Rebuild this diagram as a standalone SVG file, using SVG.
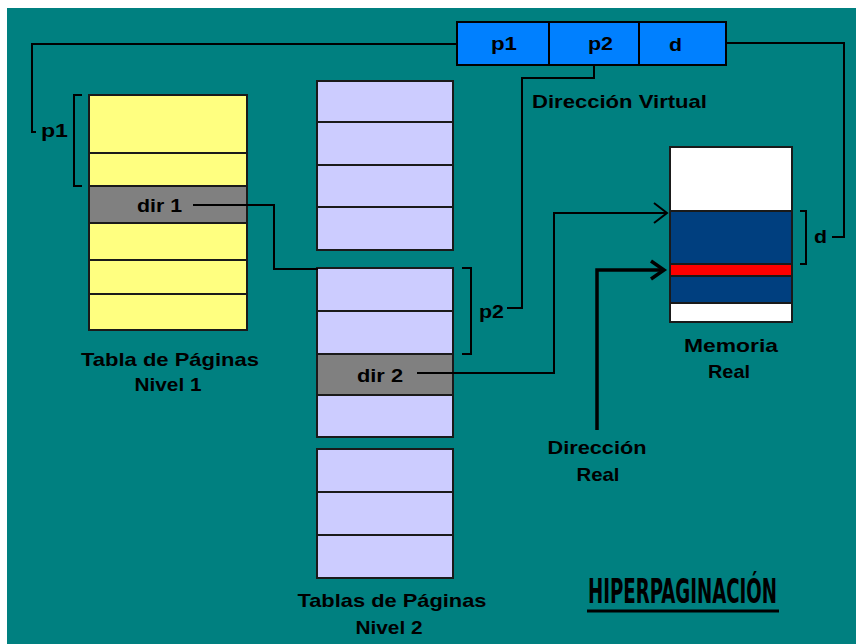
<svg xmlns="http://www.w3.org/2000/svg" width="856" height="644" viewBox="0 0 856 644">
  <style>
    .lbl { font-family: "Liberation Sans", Arial, sans-serif; font-weight: bold; font-size: 19px; fill: #000; }
    .mid { text-anchor: middle; }
    .cell { stroke: #1a1a1a; stroke-width: 2; }
    .yel { fill: #FFFF80; }
    .lil { fill: #CCCCFF; }
    .gry { fill: #808080; }
    .wire { fill: none; stroke: #000; stroke-width: 2; }
    .thick { fill: none; stroke: #000; stroke-width: 3.5; }
  </style>

  <!-- page background -->
  <rect x="0" y="0" width="856" height="644" fill="#ffffff"/>
  <rect x="7" y="8" width="849" height="636" fill="#008080"/>

  <!-- virtual address -->
  <g id="virtual-address">
    <rect x="457" y="22" width="269" height="43" fill="#0080FF" stroke="#000" stroke-width="2"/>
    <line x1="549" y1="22" x2="549" y2="65" stroke="#000" stroke-width="2"/>
    <line x1="639" y1="22" x2="639" y2="65" stroke="#000" stroke-width="2"/>
    <text class="lbl" x="491" y="50" textLength="26" lengthAdjust="spacingAndGlyphs">p1</text>
    <text class="lbl" x="588" y="50" textLength="25" lengthAdjust="spacingAndGlyphs">p2</text>
    <text class="lbl" x="669" y="51" textLength="13" lengthAdjust="spacingAndGlyphs">d</text>
    <text class="lbl" x="532" y="108" textLength="175" lengthAdjust="spacingAndGlyphs">Dirección Virtual</text>
  </g>

  <!-- level 1 page table -->
  <g id="table-level1">
    <rect class="cell yel" x="89" y="95" width="158" height="58"/>
    <rect class="cell yel" x="89" y="153" width="158" height="33"/>
    <rect class="cell gry" x="89" y="186" width="158" height="37"/>
    <rect class="cell yel" x="89" y="223" width="158" height="37"/>
    <rect class="cell yel" x="89" y="260" width="158" height="34"/>
    <rect class="cell yel" x="89" y="294" width="158" height="36"/>
    <text class="lbl" x="137" y="212" textLength="45" lengthAdjust="spacingAndGlyphs">dir 1</text>
    <text class="lbl mid" x="170" y="366" textLength="178" lengthAdjust="spacingAndGlyphs">Tabla de Páginas</text>
    <text class="lbl mid" x="168" y="391" textLength="67" lengthAdjust="spacingAndGlyphs">Nivel 1</text>
  </g>

  <!-- level 2 page tables -->
  <g id="table-level2-a">
    <rect class="cell lil" x="317" y="81" width="136" height="41"/>
    <rect class="cell lil" x="317" y="122" width="136" height="43"/>
    <rect class="cell lil" x="317" y="165" width="136" height="42"/>
    <rect class="cell lil" x="317" y="207" width="136" height="43"/>
  </g>
  <g id="table-level2-b">
    <rect class="cell lil" x="317" y="268" width="136" height="43"/>
    <rect class="cell lil" x="317" y="311" width="136" height="43"/>
    <rect class="cell gry" x="317" y="354" width="136" height="41"/>
    <rect class="cell lil" x="317" y="395" width="136" height="42"/>
    <text class="lbl" x="357" y="382" textLength="46" lengthAdjust="spacingAndGlyphs">dir 2</text>
  </g>
  <g id="table-level2-c">
    <rect class="cell lil" x="317" y="449" width="136" height="43"/>
    <rect class="cell lil" x="317" y="492" width="136" height="43"/>
    <rect class="cell lil" x="317" y="535" width="136" height="43"/>
    <text class="lbl mid" x="392" y="607" textLength="189" lengthAdjust="spacingAndGlyphs">Tablas de Páginas</text>
    <text class="lbl mid" x="389" y="634" textLength="67" lengthAdjust="spacingAndGlyphs">Nivel 2</text>
  </g>

  <!-- physical memory -->
  <g id="real-memory">
    <rect class="cell" x="670" y="147" width="122" height="64" fill="#ffffff"/>
    <rect class="cell" x="670" y="211" width="122" height="53" fill="#003F7F"/>
    <rect class="cell" x="670" y="264" width="122" height="12" fill="#FF0000"/>
    <rect class="cell" x="670" y="276" width="122" height="27" fill="#003F7F"/>
    <rect class="cell" x="670" y="303" width="122" height="19" fill="#ffffff"/>
    <text class="lbl mid" x="731" y="352" textLength="94" lengthAdjust="spacingAndGlyphs">Memoria</text>
    <text class="lbl mid" x="729" y="378" textLength="42" lengthAdjust="spacingAndGlyphs">Real</text>
  </g>

  <!-- real address label -->
  <g id="real-address">
    <text class="lbl mid" x="597" y="454" textLength="99" lengthAdjust="spacingAndGlyphs">Dirección</text>
    <text class="lbl mid" x="598" y="481" textLength="43" lengthAdjust="spacingAndGlyphs">Real</text>
  </g>

  <!-- title -->
  <g id="title">
    <text x="588" y="603" font-family="'Liberation Sans Narrow', 'DejaVu Sans Condensed', sans-serif" font-weight="bold" font-size="34" textLength="189" lengthAdjust="spacingAndGlyphs" fill="#000">HIPERPAGINACIÓN</text>
    <line x1="587" y1="611" x2="779" y2="611" stroke="#000" stroke-width="3"/>
  </g>

  <!-- connectors -->
  <g id="connectors">
    <!-- p1 field to level 1 table offset -->
    <polyline class="wire" points="457,44 32,44 32,132 36,132"/>
    <text class="lbl" x="41" y="137" textLength="27" lengthAdjust="spacingAndGlyphs">p1</text>
    <polyline class="wire" points="82,95 74,95 74,186 82,186"/>

    <!-- dir 1 to level 2 table -->
    <polyline class="wire" points="193,205 274,205 274,269 318,269"/>

    <!-- p2 field to level 2 table offset -->
    <polyline class="wire" points="594,65 594,78 522,78 522,308 507,308"/>
    <text class="lbl" x="479" y="318" textLength="25" lengthAdjust="spacingAndGlyphs">p2</text>
    <polyline class="wire" points="462,268 471,268 471,354 462,354"/>

    <!-- dir 2 to frame base in memory -->
    <polyline class="wire" points="417,373 554,373 554,213 667,213"/>
    <polyline class="wire" points="654,203 667,213 654,223" stroke-width="1.8"/>

    <!-- d field to byte offset in memory -->
    <polyline class="wire" points="726,43 844,43 844,237 832,237"/>
    <text class="lbl" x="814" y="243" textLength="13" lengthAdjust="spacingAndGlyphs">d</text>
    <polyline class="wire" points="800,211 806,211 806,264 800,264"/>

    <!-- real address arrow -->
    <polyline class="thick" points="597,430 597,270 664,270"/>
    <polyline class="thick" points="651,261 664,270 651,279"/>
  </g>
</svg>
